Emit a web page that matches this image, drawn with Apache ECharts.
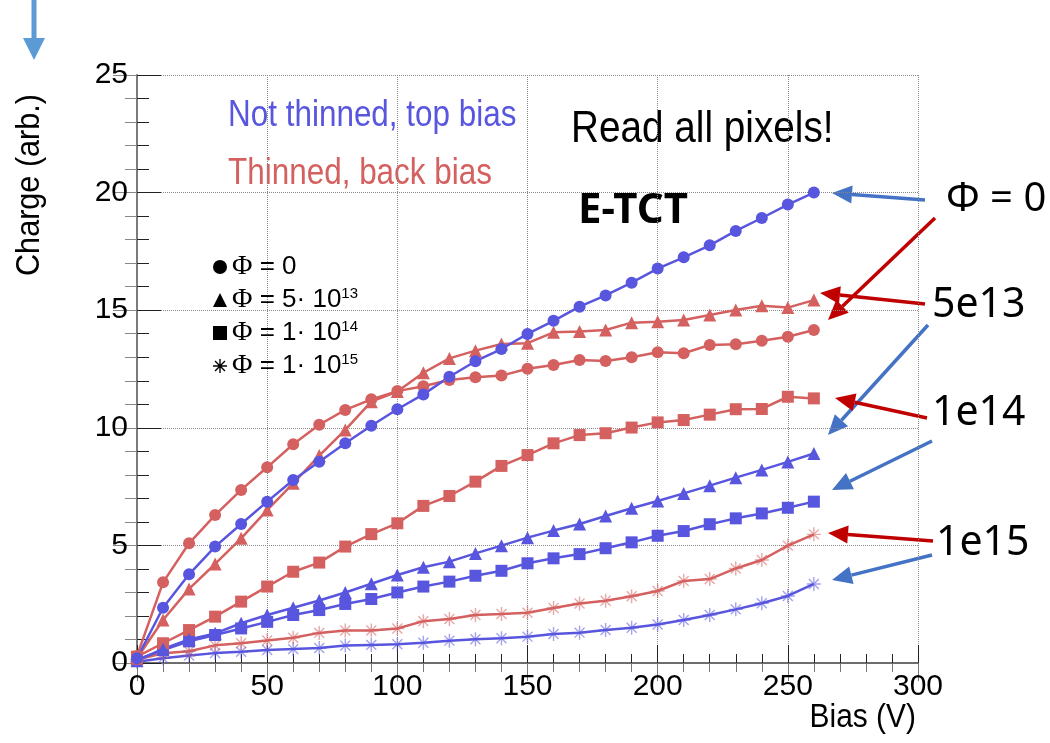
<!DOCTYPE html>
<html>
<head>
<meta charset="utf-8">
<script src="https://cdn.jsdelivr.net/npm/echarts@6/dist/echarts.min.js"></script>
<style>
  html, body { margin: 0; padding: 0; background: #fff; }
  #chart { width: 1050px; height: 743px; }
</style>
</head>
<body>
<div id="chart"></div>
<script>
var biasV = [0, 10, 20, 30, 40, 50, 60, 70, 80, 90, 100, 110, 120, 130, 140, 150, 160, 170, 180, 190, 200, 210, 220, 230, 240, 250, 260];

// not thinned, top bias (blue)
var topPhi0   = [0.2, 2.35, 3.77, 4.95, 5.91, 6.86, 7.78, 8.56, 9.34, 10.09, 10.79, 11.42, 12.17, 12.83, 13.35, 13.99, 14.55, 15.15, 15.63, 16.17, 16.77, 17.25, 17.76, 18.37, 18.92, 19.49, 20.0];
var topPhi5e13 = [0.1, 0.6, 1.0, 1.26, 1.69, 2.04, 2.35, 2.66, 3.0, 3.37, 3.74, 4.07, 4.31, 4.66, 4.99, 5.33, 5.63, 5.91, 6.25, 6.58, 6.89, 7.21, 7.54, 7.88, 8.21, 8.55, 8.91];
var topPhi1e14 = [0.15, 0.55, 0.92, 1.19, 1.47, 1.75, 2.04, 2.25, 2.51, 2.72, 3.0, 3.25, 3.46, 3.71, 3.92, 4.24, 4.45, 4.63, 4.88, 5.13, 5.41, 5.61, 5.9, 6.15, 6.36, 6.6, 6.86];
var topPhi1e15 = [0.05, 0.2, 0.32, 0.42, 0.48, 0.55, 0.59, 0.64, 0.74, 0.77, 0.8, 0.86, 0.95, 1.01, 1.05, 1.12, 1.23, 1.29, 1.4, 1.5, 1.64, 1.83, 2.04, 2.28, 2.54, 2.85, 3.36];

// thinned, back bias (red)
var backPhi0   = [0.3, 3.43, 5.09, 6.29, 7.36, 8.32, 9.3, 10.13, 10.76, 11.21, 11.56, 11.77, 12.03, 12.15, 12.22, 12.51, 12.67, 12.88, 12.84, 13.0, 13.21, 13.17, 13.52, 13.55, 13.7, 13.87, 14.16];
var backPhi5e13 = [0.2, 1.83, 3.15, 4.21, 5.3, 6.5, 7.64, 8.82, 9.91, 11.11, 11.54, 12.34, 12.95, 13.28, 13.56, 13.6, 14.06, 14.09, 14.16, 14.47, 14.51, 14.58, 14.8, 15.01, 15.19, 15.11, 15.43];
var backPhi1e14 = [0.27, 0.84, 1.4, 1.97, 2.61, 3.25, 3.88, 4.27, 4.95, 5.48, 5.94, 6.68, 7.1, 7.71, 8.38, 8.84, 9.34, 9.69, 9.77, 10.01, 10.23, 10.33, 10.56, 10.79, 10.8, 11.32, 11.25];
var backPhi1e15 = [0.15, 0.41, 0.5, 0.75, 0.84, 0.96, 1.07, 1.28, 1.38, 1.38, 1.47, 1.78, 1.87, 2.04, 2.08, 2.14, 2.34, 2.53, 2.65, 2.84, 3.06, 3.49, 3.57, 4.02, 4.38, 4.99, 5.47];

var blue = '#5855de';
var red = '#d4605f';
var sans = "'Liberation Sans', Arial, sans-serif";
var calibri = "'Noto Sans', 'Open Sans', sans-serif";
var starPath = 'path://M9,0h2v20h-2z M0,9h20v2h-20z M2.2,3.6L3.6,2.2L17.8,16.4L16.4,17.8z M16.4,2.2L17.8,3.6L3.6,17.8L2.2,16.4z';

function pairs(ys) {
    return biasV.map(function (v, i) { return [v, ys[i]]; });
}

function makeSeries(name, ys, color, symbol, size) {
    return {
        name: name,
        type: 'line',
        data: pairs(ys),
        symbol: symbol,
        symbolSize: size,
        showAllSymbol: true,
        lineStyle: { color: color, width: 2.5 },
        itemStyle: { color: color, opacity: symbol === starPath ? 0.55 : 1 },
        emphasis: { disabled: true },
        z: 3
    };
}

// legend only series (black markers)
var legendNames = ['phi0', 'phi5e13', 'phi1e14', 'phi1e15'];
var legendIcons = ['circle', 'triangle', 'rect', starPath];

function legendSeries(name) {
    return { name: name, type: 'line', data: [], itemStyle: { color: '#000' } };
}

// arrows drawn as annotations
function arrow(x1, y1, x2, y2, color, lw, hl, hw) {
    lw = lw || 3.5; hl = hl || 20; hw = hw || 9;
    var dx = x2 - x1, dy = y2 - y1;
    var len = Math.sqrt(dx * dx + dy * dy);
    var ux = dx / len, uy = dy / len;
    var bx = x2 - ux * hl, by = y2 - uy * hl;
    return {
        type: 'group',
        children: [
            { type: 'line', shape: { x1: x1, y1: y1, x2: bx, y2: by }, style: { stroke: color, lineWidth: lw } },
            { type: 'polygon', shape: { points: [[x2, y2], [bx - uy * hw, by + ux * hw], [bx + uy * hw, by - ux * hw]] }, style: { fill: color } }
        ]
    };
}

function label(x, y, text, size, color, sx, extra) {
    var st = { text: text, fontFamily: sans, fontSize: size, fill: color, verticalAlign: 'middle' };
    for (var k in extra) st[k] = extra[k];
    return { type: 'text', x: x, y: y, scaleX: sx, style: st };
}

var arrowBlue = '#4472c4';
var arrowRed = '#c00000';

var chart = echarts.init(document.getElementById('chart'));

var option = {
    animation: false,
    backgroundColor: '#fff',
    grid: { left: 137, right: 132, top: 75, bottom: 80 },
    legend: {
        orient: 'vertical',
        left: 208,
        top: 248,
        itemWidth: 14,
        itemHeight: 14,
        itemGap: 5,
        selectedMode: false,
        data: legendNames.map(function (n, i) { return { name: n, icon: legendIcons[i] }; }),
        formatter: function (name) {
            var m = { phi0: '{p|Φ}{t| = 0}', phi5e13: '{p|Φ}{t| = 5· 10}{s|13}', phi1e14: '{p|Φ}{t| = 1· 10}{s|14}', phi1e15: '{p|Φ}{t| = 1· 10}{s|15}' };
            return m[name];
        },
        textStyle: {
            color: '#000',
            rich: {
                p: { fontFamily: "'Liberation Serif', serif", fontSize: 28, lineHeight: 30, color: '#000' },
                t: { fontFamily: sans, fontSize: 26, lineHeight: 30, color: '#000' },
                s: { fontFamily: sans, fontSize: 15, lineHeight: 30, color: '#000', padding: [0, 0, 13, 0] }
            }
        }
    },
    xAxis: [
        {
            type: 'value', min: 0, max: 300, interval: 50,
            axisLine: { lineStyle: { color: '#222', width: 1.5 } },
            axisTick: { inside: true, length: 18, lineStyle: { color: '#222' } },
            minorTick: { show: true, splitNumber: 5, length: 9, lineStyle: { color: '#222' } },
            splitLine: { show: true, lineStyle: { type: 'dotted', color: '#888' } },
            axisLabel: { margin: 9, fontFamily: sans, fontSize: 30, color: '#000' }
        },
        {
            type: 'value', min: 0, max: 300, interval: 50, position: 'top',
            axisLine: { show: true, lineStyle: { color: '#777', width: 1.5 } },
            axisTick: { show: true, inside: true, length: 18, lineStyle: { color: '#777' } },
            minorTick: { show: true, splitNumber: 5, length: 9, lineStyle: { color: '#777' } },
            splitLine: { show: false },
            axisLabel: { show: false }
        }
    ],
    yAxis: [
        {
            type: 'value', min: 0, max: 25, interval: 5,
            axisLine: { show: true, lineStyle: { color: '#222', width: 1.5 } },
            axisTick: { show: true, inside: true, length: 24, lineStyle: { color: '#222' } },
            minorTick: { show: true, splitNumber: 5, length: 12, lineStyle: { color: '#222' } },
            splitLine: { show: true, lineStyle: { type: 'dotted', color: '#888' } },
            axisLabel: { margin: 9, fontFamily: sans, fontSize: 30, color: '#000' }
        },
        {
            type: 'value', min: 0, max: 25, interval: 5, position: 'right',
            axisLine: { show: true, lineStyle: { color: '#888', width: 1.5 } },
            axisTick: { show: true, inside: true, length: 24, lineStyle: { color: '#888' } },
            minorTick: { show: true, splitNumber: 5, length: 12, lineStyle: { color: '#888' } },
            splitLine: { show: false },
            axisLabel: { show: false }
        }
    ],
    series: [
        makeSeries('top Φ=1e15', topPhi1e15, blue, starPath, 14),
        makeSeries('back Φ=1e15', backPhi1e15, red, starPath, 14),
        makeSeries('top Φ=1e14', topPhi1e14, blue, 'rect', 12),
        makeSeries('back Φ=1e14', backPhi1e14, red, 'rect', 12),
        makeSeries('top Φ=5e13', topPhi5e13, blue, 'triangle', 13),
        makeSeries('back Φ=5e13', backPhi5e13, red, 'triangle', 13),
        makeSeries('back Φ=0', backPhi0, red, 'circle', 12),
        makeSeries('top Φ=0', topPhi0, blue, 'circle', 12),
        legendSeries('phi0'),
        legendSeries('phi5e13'),
        legendSeries('phi1e14'),
        legendSeries('phi1e15')
    ],
    graphic: [
        { type: 'text', x: 30, y: 185, rotation: Math.PI / 2, scaleX: 0.9,
          style: { text: 'Charge (arb.)', fontFamily: sans, fontSize: 34, fill: '#000', align: 'center', verticalAlign: 'middle' } },
        label(916, 718, 'Bias (V)', 34, '#000', 0.88, { align: 'right' }),
        label(228, 116, 'Not thinned, top bias', 37, blue, 0.85),
        label(228, 174, 'Thinned, back bias', 37, red, 0.85),
        label(571, 130, 'Read all pixels!', 44, '#000', 0.88),
        label(578, 211, 'E-TCT', 42, '#000', 1, { fontFamily: calibri, fontWeight: 'bold' }),
        label(946, 200, 'Φ = 0', 40, '#000', 1, { fontFamily: calibri }),
        label(932, 305, '5e13', 41, '#000', 1, { fontFamily: calibri }),
        label(932, 413, '1e14', 41, '#000', 1, { fontFamily: calibri }),
        label(936, 543, '1e15', 41, '#000', 1, { fontFamily: calibri }),
        arrow(925, 200, 832, 193, arrowBlue),
        arrow(935, 218, 828, 320, arrowRed),
        arrow(925, 304, 820, 293, arrowRed),
        arrow(928, 325, 828, 435, arrowBlue),
        arrow(927, 418, 835, 398, arrowRed),
        arrow(932, 441, 832, 490, arrowBlue),
        arrow(933, 541, 828, 533, arrowRed),
        arrow(932, 555, 832, 580, arrowBlue),
        arrow(34, 0, 34, 60, '#5b9bd5', 5, 22, 11)
    ]
};

chart.setOption(option);
</script>
</body>
</html>
